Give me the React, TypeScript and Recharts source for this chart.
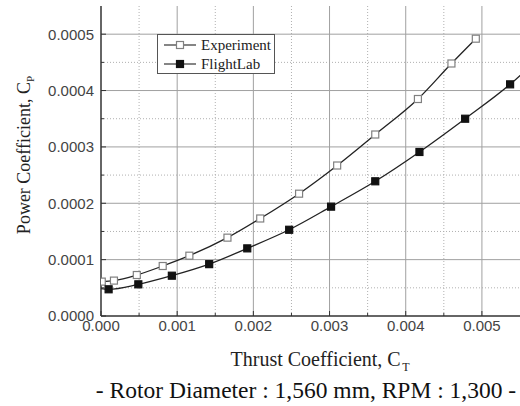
import React from 'react';
import { LineChart, Line, XAxis, YAxis, ReferenceLine, Legend, Label } from 'recharts';

// axis ticks
const xMajorTicks = [0, 0.001, 0.002, 0.003, 0.004, 0.005];
const xMinorTicks = [0.0005, 0.0015, 0.0025, 0.0035, 0.0045];
const yMajorTicks = [0, 0.0001, 0.0002, 0.0003, 0.0004, 0.0005];
const yMinorTicks = [0.00005, 0.00015, 0.00025, 0.00035, 0.00045];

// Experiment (open squares)
const expCt = [0.00001, 0.00017, 0.00047, 0.00081, 0.00116, 0.00166, 0.00209, 0.0026, 0.0031, 0.0036, 0.00416, 0.0046, 0.00492];
const expCp = [0.000061, 0.0000628, 0.0000727, 0.0000887, 0.000107, 0.000139, 0.000173, 0.000217, 0.000267, 0.000322, 0.000385, 0.000448, 0.000492];

// FlightLab (filled squares) - first/last points run past the plot edges
const flCt = [-0.00008, 0.0001, 0.00049, 0.00093, 0.00142, 0.00192, 0.00247, 0.00302, 0.0036, 0.00418, 0.00478, 0.00537, 0.0059];
const flCp = [0.0000505, 0.0000474, 0.0000562, 0.0000715, 0.000092, 0.00012, 0.000153, 0.000194, 0.000239, 0.000291, 0.00035, 0.000411, 0.000478];

const expData = expCt.map((ct, i) => ({ ct, cp: expCp[i] }));
const flData = flCt.map((ct, i) => ({ ct, cp: flCp[i] }));

const SANS = '"Liberation Sans", Arial, sans-serif';
const SERIF = '"Liberation Serif", "Times New Roman", serif';
const X_MARGIN = 4;
const Y_MARGIN = 7;

const markerStyle: Record<string, { fill: string; stroke: string }> = {
  Experiment: { fill: '#ffffff', stroke: '#808080' },
  FlightLab: { fill: '#111111', stroke: '#111111' },
};

function XTick({ x, y, payload }: any) {
  const major = xMajorTicks.includes(payload.value);
  const axisY = y - X_MARGIN;
  return (
    <g>
      <line x1={x} x2={x} y1={axisY} y2={axisY - (major ? 5 : 3)} stroke="#333" strokeWidth={1} />
      {major && (
        <text x={x} y={y} dy="0.71em" textAnchor="middle" fontFamily={SANS} fontSize={15} fill="#444">
          {payload.value.toFixed(3)}
        </text>
      )}
    </g>
  );
}

function YTick({ x, y, payload }: any) {
  const major = yMajorTicks.includes(payload.value);
  const axisX = x + Y_MARGIN;
  return (
    <g>
      <line x1={axisX} x2={axisX + (major ? 5 : 3)} y1={y} y2={y} stroke="#333" strokeWidth={1} />
      {major && (
        <text x={x} y={y} dy="0.355em" textAnchor="end" fontFamily={SANS} fontSize={15} fill="#444">
          {payload.value.toFixed(4)}
        </text>
      )}
    </g>
  );
}

function YTitle({ viewBox }: any) {
  const cx = viewBox.x + 30;
  const cy = viewBox.y + viewBox.height / 2 - 6;
  return (
    <text x={cx} y={cy} transform={`rotate(-90 ${cx} ${cy})`} textAnchor="middle" fontFamily={SERIF} fontSize={18} fill="#222">
      Power Coefficient, C<tspan fontSize={11} dy={4}>P</tspan>
    </text>
  );
}

function XTitle({ viewBox }: any) {
  const cx = viewBox.x + viewBox.width / 2 + 9.5;
  return (
    <text x={cx} y={viewBox.y + 50} textAnchor="middle" fontFamily={SERIF} fontSize={20} fill="#222">
      Thrust Coefficient, C<tspan fontSize={12} dx={1.5} dy={5}>T</tspan>
    </text>
  );
}

function Caption({ viewBox }: any) {
  const cx = viewBox.x + viewBox.width / 2 - 4.5;
  return (
    <text x={cx} y={viewBox.y + 82} textAnchor="middle" fontFamily={SERIF} fontSize={23.5} fill="#111">
      - Rotor Diameter : 1,560 mm, RPM : 1,300 -
    </text>
  );
}

function squareDot(name: string) {
  const s = markerStyle[name];
  return (props: any) => {
    const { cx, cy, index } = props;
    if (cx == null || cy == null) return <g key={`${name}-${index}`} />;
    return (
      <rect key={`${name}-${index}`} x={cx - 3.5} y={cy - 3.5} width={7} height={7}
        fill={s.fill} stroke={s.stroke} strokeWidth={1.2} />
    );
  };
}

function LegendBox({ payload }: any) {
  return (
    <div style={{ border: '1px solid #555', background: '#fff', width: 116, height: 36, padding: '1px 0', boxSizing: 'content-box' }}>
      {(payload || []).map((p: any) => {
        const s = markerStyle[p.value];
        return (
          <div key={`lg-${p.value}`} style={{ display: 'flex', alignItems: 'center', height: 18.5 }}>
            <svg width={43} height={10} style={{ display: 'block' }}>
              <line x1={6} x2={38} y1={5} y2={5} stroke="#333" strokeWidth={1.2} />
              <rect x={18.5} y={1.5} width={7} height={7} fill={s.fill} stroke={s.stroke} strokeWidth={1.2} />
            </svg>
            <span style={{ fontFamily: SERIF, fontSize: 15, color: '#222', lineHeight: '18px' }}>{p.value}</span>
          </div>
        );
      })}
    </div>
  );
}

export default function App() {
  return (
    <div style={{ position: 'absolute', left: 0, top: 0, width: 520, height: 406, overflow: 'hidden', background: '#fff' }}>
      <LineChart width={520} height={406} margin={{ top: 6, right: 0, bottom: 60, left: 0 }}>
        <XAxis
          type="number" dataKey="ct" domain={[0, 0.0055]} allowDataOverflow
          ticks={[...xMajorTicks, ...xMinorTicks]} interval={0}
          tick={<XTick />} tickLine={false} tickSize={0} tickMargin={X_MARGIN}
          axisLine={{ stroke: '#333', strokeWidth: 1.5 }} height={30}
        >
          <Label content={<XTitle />} />
          <Label content={<Caption />} />
        </XAxis>
        <XAxis xAxisId="top" orientation="top" type="number" domain={[0, 0.0055]} height={0}
          tick={false} tickLine={false} axisLine={{ stroke: '#333', strokeWidth: 1.5 }} />
        <YAxis
          type="number" domain={[0, 0.00055]} allowDataOverflow
          ticks={[...yMajorTicks, ...yMinorTicks]} interval={0}
          tick={<YTick />} tickLine={false} tickSize={0} tickMargin={Y_MARGIN}
          axisLine={{ stroke: '#333', strokeWidth: 1.5 }} width={101}
        >
          <Label content={<YTitle />} />
        </YAxis>
        {xMinorTicks.map((v) => (
          <ReferenceLine key={`xm-${v}`} x={v} stroke="#b0b0b0" strokeDasharray="1 2" />
        ))}
        {yMinorTicks.map((v) => (
          <ReferenceLine key={`ym-${v}`} y={v} stroke="#b0b0b0" strokeDasharray="1 2" />
        ))}
        {xMajorTicks.filter((v) => v > 0).map((v) => (
          <ReferenceLine key={`xM-${v}`} x={v} stroke="#a0a0a0" />
        ))}
        {yMajorTicks.filter((v) => v > 0).map((v) => (
          <ReferenceLine key={`yM-${v}`} y={v} stroke="#a0a0a0" />
        ))}
        <Legend content={<LegendBox />} layout="horizontal" align="center" verticalAlign="middle"
          wrapperStyle={{ left: 157, top: 34, width: 118 }} />
        <Line data={expData} dataKey="cp" name="Experiment" type="monotone" stroke="#222" strokeWidth={1.3}
          dot={squareDot('Experiment')} activeDot={false} isAnimationActive={false} />
        <Line data={flData} dataKey="cp" name="FlightLab" type="monotone" stroke="#222" strokeWidth={1.3}
          dot={squareDot('FlightLab')} activeDot={false} isAnimationActive={false} />
      </LineChart>
    </div>
  );
}
